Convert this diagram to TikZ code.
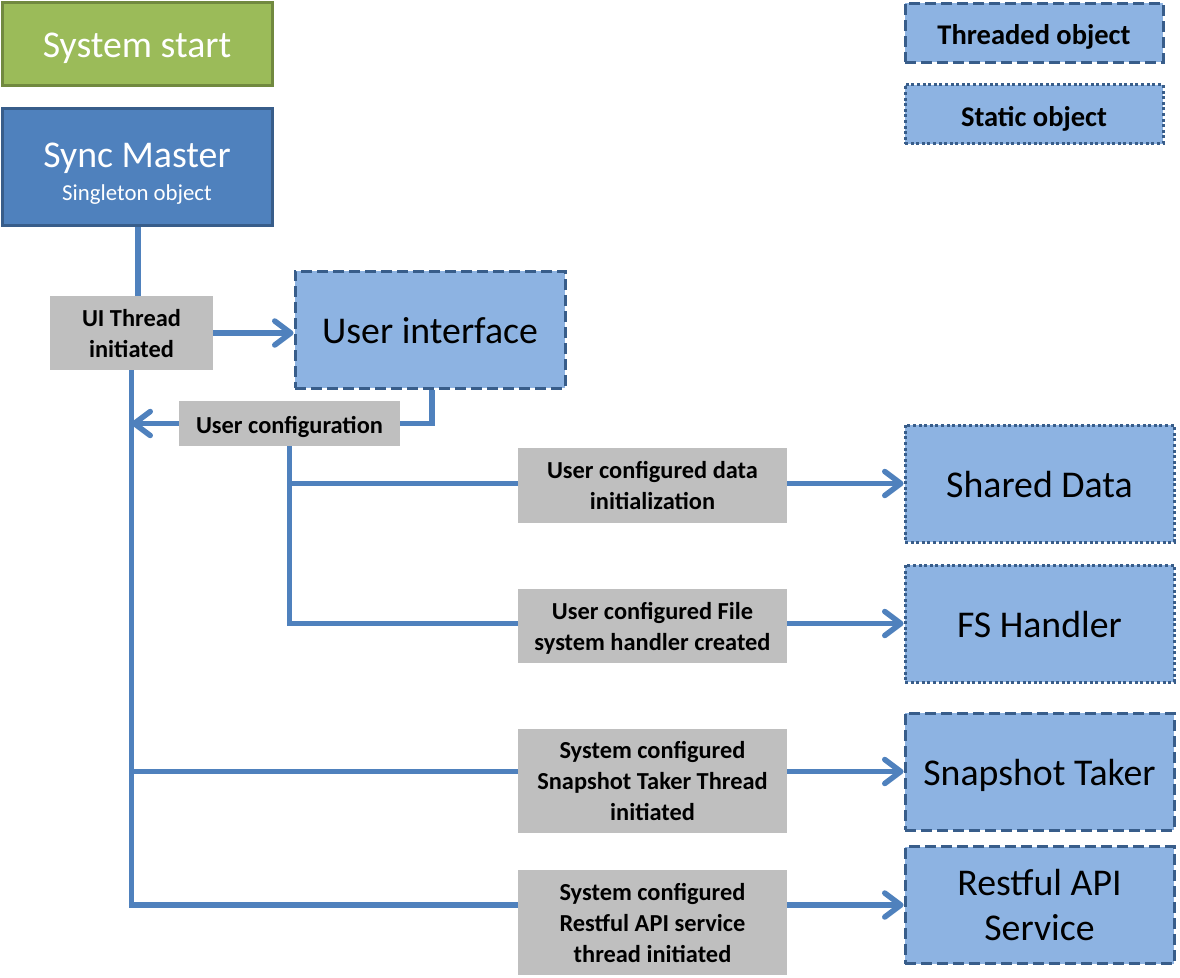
\documentclass[tikz,border=0pt]{standalone}
\usepackage{fontspec}
\setmainfont{Carlito}
\usetikzlibrary{arrows.meta}
\definecolor{sgreen}{HTML}{9BBB59}
\definecolor{sgreenb}{HTML}{71893F}
\definecolor{sblue}{HTML}{4F81BD}
\definecolor{sblueb}{HTML}{385D8A}
\definecolor{lblue}{HTML}{8DB3E2}
\definecolor{lgray}{HTML}{BFBFBF}
\tikzset{
  struts/.style={execute at begin node={\rule{0pt}{\dimexpr0.952em+#1\relax}}, execute at end node={\rule[-0.269em]{0pt}{0pt}}},
  struts/.default=3pt,
  multi/.style={text depth=#1},
  bigtext/.style={font=\fontsize{37.8}{45}\selectfont},
  lbltext/.style={font=\bfseries\fontsize{24.4}{31}\selectfont},
  legtext/.style={font=\bfseries\fontsize{28.5}{34}\selectfont},
  startbox/.style={draw=sgreenb, fill=sgreen, line width=3pt, text=white, bigtext, struts, minimum width=270pt, minimum height=83pt, inner sep=0pt},
  masterbox/.style={draw=sblueb, fill=sblue, line width=3pt, minimum width=270pt, minimum height=117pt, inner sep=0pt},
  threaded/.style={draw=sblueb, fill=lblue, line width=3pt, dash pattern=on 11pt off 5pt, align=center, inner sep=0pt, struts},
  static/.style={draw=sblueb, fill=lblue, line width=3pt, dash pattern=on 3pt off 2.6pt, align=center, inner sep=0pt, struts},
  objsize/.style={minimum width=269pt, minimum height=117pt, bigtext},
  legsize/.style={minimum width=258pt, minimum height=59pt, legtext, struts=5pt},
  lblbox/.style={fill=lgray, align=center, inner sep=0pt, lbltext, multi=-10pt},
  conn/.style={draw=sblue, line width=5.5pt},
  arr/.style={conn, -{Straight Barb[length=16pt, width=24pt, round]}},
}
\begin{document}
\begin{tikzpicture}[x=1pt, y=-1pt]
\useasboundingbox (0,0) rectangle (1180,977);
% top-left boxes
\node[startbox] (start) at (137,43.5) {System start};
\node[masterbox] (master) at (137,166.5) {};
\node[text=white, bigtext, inner sep=0pt, anchor=base] (mtitle) at (137,167) {Sync Master};
\node[text=white, font=\fontsize{22.8}{27}\selectfont, inner sep=0pt, anchor=base] (msub) at (137,200) {Singleton object};
% legend
\node[threaded, legsize] (legT) at (1034,32.5) {Threaded object};
\node[static, legsize] (legS) at (1034,114) {Static object};
% objects
\node[threaded, objsize, minimum width=270pt] (ui) at (430,329.5) {User interface};
\node[static, objsize] (shared) at (1039.5,483.5) {Shared Data};
\node[static, objsize] (fs) at (1039.5,623.5) {FS Handler};
\node[threaded, objsize] (snap) at (1039.5,771.5) {Snapshot Taker};
\node[threaded, objsize, multi=-12pt] (rest) at (1039.5,905) {Restful API\\Service};
% labels
\node[lblbox, minimum width=163pt, minimum height=74pt] (uith) at (131.5,333) {UI Thread\\initiated};
\node[fill=lgray, inner sep=0pt, lbltext, struts=3pt, minimum width=221pt, minimum height=45pt] (ucfg) at (289.5,423.5) {User configuration};
\node[lblbox, minimum width=269pt, minimum height=75pt] (ldata) at (652.5,485.5) {User configured data\\initialization};
\node[lblbox, minimum width=269pt, minimum height=74pt] (lfs) at (652.5,626) {User configured File\\system handler created};
\node[lblbox, minimum width=269pt, minimum height=104pt] (lsnap) at (652.5,781) {System configured\\Snapshot Taker Thread\\initiated};
\node[lblbox, minimum width=269pt, minimum height=105pt] (lrest) at (652.5,922.5) {System configured\\Restful API service\\thread initiated};
% connectors
\draw[conn] ([xshift=1pt]master.south) -- ([xshift=1pt]master.south |- uith.north);
\draw[arr] (uith.east) -- (uith.east -| ui.west);
\draw[conn] (uith.south) -- (uith.south |- rest.west) -- (rest.west -| lrest.west);
\draw[conn] (uith.south |- snap.west) -- (snap.west -| lsnap.west);
\draw[conn] ([xshift=2pt]ui.south) -- ([xshift=2pt]ui.south |- ucfg.east) -- (ucfg.east);
\draw[arr] (ucfg.west) -- (ucfg.west -| uith.south);
\draw[conn] (ucfg.south) -- (ucfg.south |- fs.west) -- (fs.west -| lfs.west);
\draw[conn] (ucfg.south |- shared.west) -- (shared.west -| ldata.west);
\draw[arr] (shared.west -| ldata.east) -- (shared.west);
\draw[arr] (fs.west -| lfs.east) -- (fs.west);
\draw[arr] (snap.west -| lsnap.east) -- (snap.west);
\draw[arr] (rest.west -| lrest.east) -- (rest.west);
\end{tikzpicture}
\end{document}
